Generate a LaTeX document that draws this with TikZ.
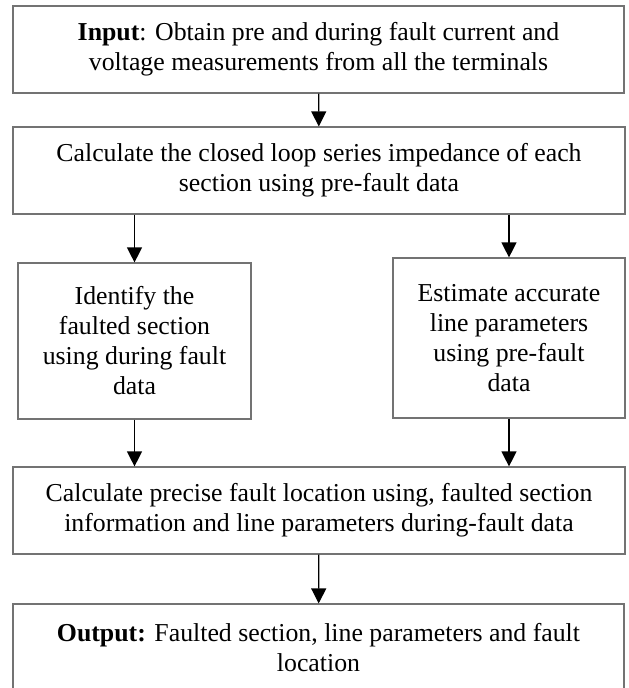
\documentclass[tikz,border=0pt]{standalone}
\usepackage{fontspec}
\setmainfont{Liberation Serif}
\usetikzlibrary{arrows.meta}

\tikzset{
  stage/.style={draw=black!55, line width=1.2pt, align=center, inner sep=0pt,
                font=\fontsize{25.8}{30}\selectfont},
  flow/.style={-{Triangle[width=15pt,length=15pt]}, line width=1.3pt},
}

\begin{document}
\begin{tikzpicture}[x=1pt,y=-1pt]
\useasboundingbox (0,0) rectangle (629,688);
\node[stage, minimum width=611pt, minimum height=87pt] (input) at (318.5,49.5)
  {\textbf{Input}: Obtain pre and during fault current and\\voltage measurements from all the terminals};
\node[stage, minimum width=612pt, minimum height=87pt] (calc) at (319,170.5)
  {Calculate the closed loop series impedance of each\\section using pre-fault data};
\node[stage, minimum width=233pt, minimum height=156pt] (ident) at (134.5,341)
  {Identify the\\faulted section\\using during fault\\data};
\node[stage, minimum width=232pt, minimum height=160pt] (estim) at (509,338)
  {Estimate accurate\\line parameters\\using pre-fault\\data};
\node[stage, minimum width=612pt, minimum height=87pt] (locate) at (319,510.5)
  {Calculate precise fault location using, faulted section\\information and line parameters during-fault data};
\node[stage, minimum width=611pt, minimum height=87pt] (output) at (318.5,647.5)
  {\textbf{Output:} Faulted section, line parameters and fault\\location};

\draw[flow] (input) -- (calc);
\draw[flow] (calc.south -| ident) -- (ident);
\draw[flow] (calc.south -| estim) -- (estim);
\draw[flow] (ident) -- (ident |- locate.north);
\draw[flow] (estim) -- (estim |- locate.north);
\draw[flow] (locate) -- (output);
\end{tikzpicture}
\end{document}
